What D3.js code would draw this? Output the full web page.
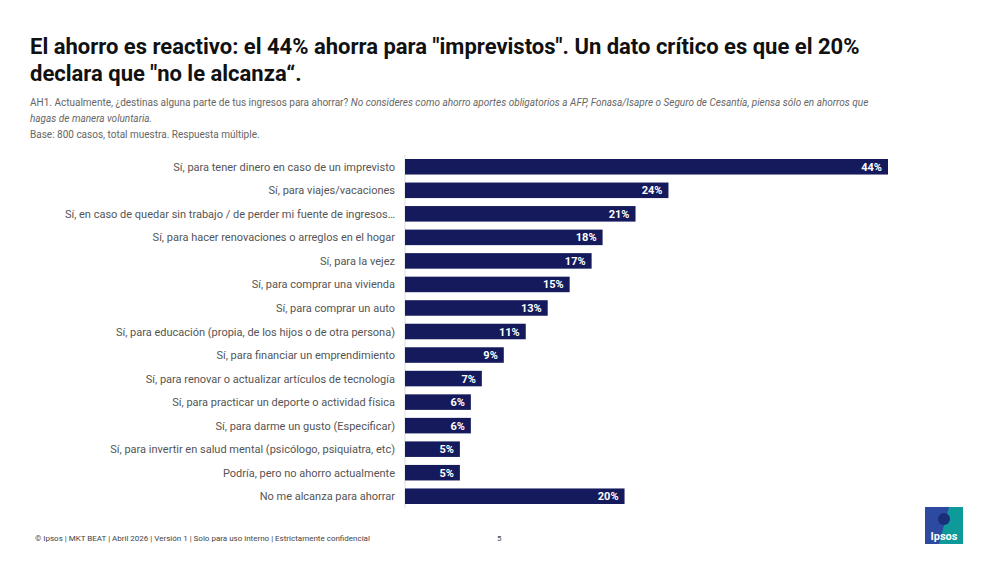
<!DOCTYPE html>
<html>
<head>
<meta charset="utf-8">
<script src="https://cdn.jsdelivr.net/npm/d3@7"></script>
<style>
  body { margin: 0; background: #fff; font-family: 'Roboto', sans-serif; }
  svg { display: block; }
</style>
</head>
<body>
<div id="chart"></div>
<script>
var categories = [
  "Sí, para tener dinero en caso de un imprevisto",
  "Sí, para viajes/vacaciones",
  "Sí, en caso de quedar sin trabajo / de perder mi fuente de ingresos…",
  "Sí, para hacer renovaciones o arreglos en el hogar",
  "Sí, para la vejez",
  "Sí, para comprar una vivienda",
  "Sí, para comprar un auto",
  "Sí, para educación (propia, de los hijos o de otra persona)",
  "Sí, para financiar un emprendimiento",
  "Sí, para renovar o actualizar artículos de tecnología",
  "Sí, para practicar un deporte o actividad física",
  "Sí, para darme un gusto (Especificar)",
  "Sí, para invertir en salud mental (psicólogo, psiquiatra, etc)",
  "Podría, pero no ahorro actualmente",
  "No me alcanza para ahorrar"
];
var values = [44, 24, 21, 18, 17, 15, 13, 11, 9, 7, 6, 6, 5, 5, 20];

var width = 1000, height = 563;
var svg = d3.select("#chart").append("svg").attr("width", width).attr("height", height);

// title + notes
svg.append("text").attr("x", 30).attr("y", 54)
  .style("font-size", "22px").style("font-weight", 700).attr("fill", "#111")
  .text("El ahorro es reactivo: el 44% ahorra para \"imprevistos\". Un dato crítico es que el 20%");
svg.append("text").attr("x", 30).attr("y", 81)
  .style("font-size", "22px").style("font-weight", 700).attr("fill", "#111")
  .text("declara que \"no le alcanza“.");

var note = svg.append("g").style("font-size", "10px").attr("fill", "#666");
var l1 = note.append("text").attr("x", 30).attr("y", 106);
l1.append("tspan").text("AH1. Actualmente, ¿destinas alguna parte de tus ingresos para ahorrar? ");
l1.append("tspan").style("font-style", "italic")
  .text("No consideres como ahorro aportes obligatorios a AFP, Fonasa/Isapre o Seguro de Cesantía, piensa sólo en ahorros que");
note.append("text").attr("x", 30).attr("y", 122).style("font-style", "italic").text("hagas de manera voluntaria.");
note.append("text").attr("x", 30).attr("y", 138).text("Base: 800 casos, total muestra. Respuesta múltiple.");

// chart
var x = d3.scaleLinear().domain([0, 44]).range([405, 888]);
var y = d3.scaleBand().domain(categories).range([155, 508]).paddingInner(0.34).paddingOuter(0.17);

svg.append("line").attr("x1", 405).attr("x2", 405).attr("y1", 155).attr("y2", 508)
  .attr("stroke", "#ddd");

svg.selectAll("rect.bar").data(values).enter().append("rect")
  .attr("class", "bar")
  .attr("x", x(0))
  .attr("y", (d, i) => y(categories[i]))
  .attr("width", d => x(d) - x(0))
  .attr("height", y.bandwidth())
  .attr("fill", "#141a5c");

svg.selectAll("text.val").data(values).enter().append("text")
  .attr("class", "val")
  .attr("x", d => x(d) - 6)
  .attr("y", (d, i) => y(categories[i]) + y.bandwidth() / 2 + 4)
  .attr("text-anchor", "end").attr("fill", "#fff")
  .style("font-size", "11px").style("font-weight", 700)
  .text(d => d + "%");

svg.selectAll("text.cat").data(categories).enter().append("text")
  .attr("class", "cat")
  .attr("x", 395)
  .attr("y", d => y(d) + y.bandwidth() / 2 + 4)
  .attr("text-anchor", "end").attr("fill", "#555")
  .style("font-size", "11px")
  .text(d => d);

// footer
svg.append("text").attr("x", 35).attr("y", 541).style("font-size", "8px").attr("fill", "#444")
  .text("© Ipsos | MKT BEAT | Abril 2026 | Versión 1 | Solo para uso interno | Estrictamente confidencial");
svg.append("text").attr("x", 497).attr("y", 541).style("font-size", "8px").attr("fill", "#444").text("5");

// logo
var logo = svg.append("g").attr("transform", "translate(925,507)");
logo.append("rect").attr("width", 38).attr("height", 37).attr("fill", "#0f9a9a");
logo.append("path").attr("d", "M0,0 H24 L14,37 H0 Z").attr("fill", "#2b4aa0");
logo.append("circle").attr("cx", 19).attr("cy", 12).attr("r", 6).attr("fill", "#1a2f7a");
logo.append("text").attr("x", 19).attr("y", 33).attr("text-anchor", "middle")
  .attr("fill", "#fff").style("font-size", "11px").style("font-weight", 700).text("Ipsos");
</script>
</body>
</html>
